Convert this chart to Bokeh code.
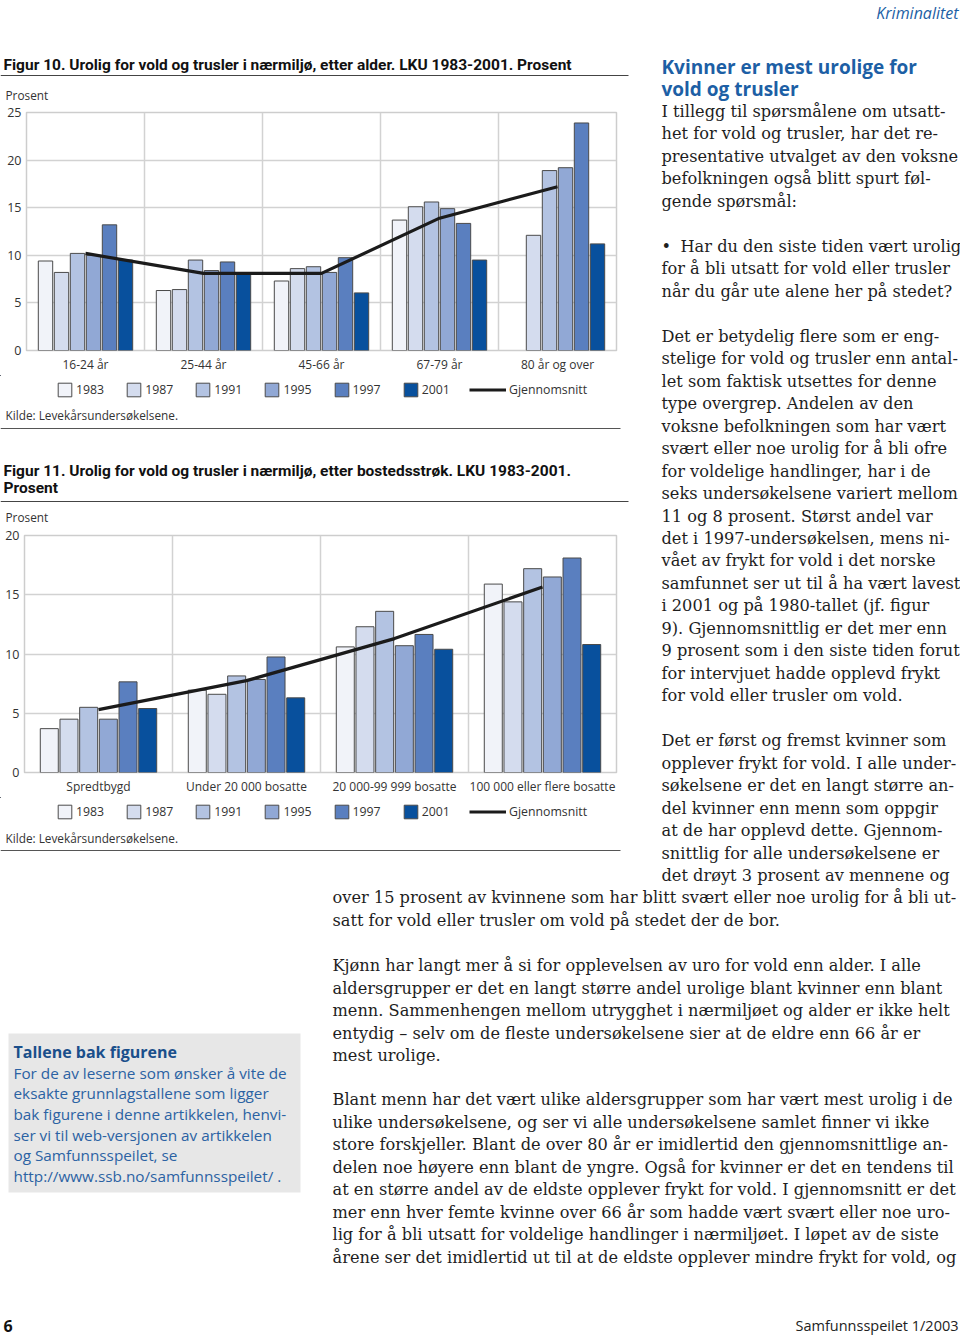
from bokeh.plotting import figure
from bokeh.models import Range1d, FixedTicker, Legend, LegendItem, ColumnDataSource
from bokeh.layouts import column, row
from bokeh.core.properties import value
from bokeh.embed import file_html
from bokeh.resources import INLINE

# ---------------- data ----------------
years = ["1983", "1987", "1991", "1995", "1997", "2001"]
colors = ["#f1f3f9", "#d4dcee", "#b3c3e2", "#91a8d5", "#5a7fbf", "#08509d"]

groups10 = ["16-24 år", "25-44 år", "45-66 år", "67-79 år", "80 år og over"]
v10_1983 = [9.4, 6.3, 7.3, 13.7, None]
v10_1987 = [8.2, 6.4, 8.6, 15.1, 12.1]
v10_1991 = [10.2, 9.5, 8.8, 15.6, 18.9]
v10_1995 = [10.0, 8.4, 8.2, 14.9, 19.2]
v10_1997 = [13.2, 9.3, 9.75, 13.35, 23.9]
v10_2001 = [9.5, 8.0, 6.05, 9.5, 11.2]
avg10 = [10.2, 8.1, 8.1, 13.9, 17.2]

groups11 = ["Spredtbygd", "Under 20 000 bosatte", "20 000-99 999 bosatte", "100 000 eller flere bosatte"]
v11_1983 = [3.7, 6.95, 10.6, 15.9]
v11_1987 = [4.5, 6.6, 12.3, 14.4]
v11_1991 = [5.5, 8.15, 13.6, 17.2]
v11_1995 = [4.5, 7.85, 10.7, 16.5]
v11_1997 = [7.65, 9.75, 11.65, 18.1]
v11_2001 = [5.4, 6.3, 10.4, 10.8]
avg11 = [5.3, 7.75, 11.3, 15.65]

yticks10 = [0, 5, 10, 15, 20, 25]
yticks11 = [0, 5, 10, 15, 20]

SANS = "Open Sans"
SERIF = "DejaVu Serif"
BLUE = "#1d5fa5"
BAR_LINE = "#4a4a4a"
AVG_LINE = "#1b1b1b"


def chart(groups, series, avg, yticks, width, height, borders, bar_w, step, cat_size):
    n = len(groups)
    p = figure(width=width, height=height, x_range=Range1d(0, n), y_range=Range1d(0, yticks[-1]),
               output_backend="svg", toolbar_location=None,
               min_border_left=borders[0], min_border_right=borders[1],
               min_border_top=borders[2], min_border_bottom=borders[3])
    p.frame_align = False
    p.background_fill_color = "white"
    p.border_fill_color = "white"
    p.outline_line_color = "#cdcdcd"
    p.outline_line_width = 1.5
    k = len(series)
    for j, vals in enumerate(series):
        xs, tops = [], []
        for i, v in enumerate(vals):
            if v is not None:
                xs.append(i + 0.5 + (j - (k - 1) / 2) * step)
                tops.append(v)
        src = ColumnDataSource(dict(x=xs, top=tops))
        p.vbar(x="x", top="top", width=bar_w, bottom=0, source=src,
               fill_color=colors[j], line_color=BAR_LINE, line_width=1)
    lsrc = ColumnDataSource(dict(x=[i + 0.5 for i in range(n)], y=avg))
    p.line(x="x", y="y", source=lsrc, line_color=AVG_LINE, line_width=3.2)

    p.yaxis.ticker = FixedTicker(ticks=yticks)
    p.xaxis.ticker = FixedTicker(ticks=[i + 0.5 for i in range(n)])
    p.xaxis.major_label_overrides = {i + 0.5: g for i, g in enumerate(groups)}
    p.xgrid.ticker = FixedTicker(ticks=list(range(1, n)))
    for ax in (p.xaxis, p.yaxis):
        ax.axis_line_color = None
        ax.major_tick_line_color = None
        ax.minor_tick_line_color = None
        ax.major_tick_out = 0
        ax.major_tick_in = 0
        ax.major_label_text_font = SANS
        ax.major_label_text_color = "#333333"
        ax.major_label_standoff = 5
    p.yaxis.major_label_text_font_size = "12.5px"
    p.xaxis.major_label_text_font_size = cat_size
    p.grid.grid_line_color = "#d2d2d2"
    p.grid.grid_line_width = 1.5
    return p


def textfig(x0, x1, y0, y1):
    p = figure(width=int(x1 - x0), height=int(y1 - y0), x_range=Range1d(x0, x1),
               y_range=Range1d(y1, y0), output_backend="svg", toolbar_location=None, min_border=0)
    p.frame_align = False
    p.axis.visible = False
    p.grid.visible = False
    p.outline_line_color = None
    p.background_fill_color = "white"
    p.border_fill_color = "white"
    return p


GLYPH = 17


def add_legend(p, center_from_bottom):
    """Legend key (1983 ... 2001 boxes + Gjennomsnitt line) drawn in a text panel.
    The key renderers sit far outside the visible range; only their legend swatches show."""
    off = -1.0e6
    yb = center_from_bottom - GLYPH / 2
    items = []
    for j, yr in enumerate(years):
        r = p.vbar(x=[off], top=[0], bottom=[1], width=1, fill_color=colors[j],
                   line_color=BAR_LINE, line_width=1)
        items.append(LegendItem(label=yr, renderers=[r]))
    common = dict(orientation="horizontal", padding=0, margin=0, border_line_color=None,
                  background_fill_alpha=0, label_text_font=SANS, label_text_font_size="12.3px",
                  label_text_color="#333333", label_standoff=3, label_height=GLYPH,
                  glyph_height=GLYPH)
    leg1 = Legend(items=items, location=(56, yb), glyph_width=GLYPH, spacing=21, **common)
    lr = p.line(x=[off, off + 1], y=[0, 0], line_color=AVG_LINE, line_width=3.2)
    leg2 = Legend(items=[LegendItem(label="Gjennomsnitt", renderers=[lr])],
                  location=(469, yb), glyph_width=37, **common)
    p.add_layout(leg1)
    p.add_layout(leg2)


def txt(p, x, ys, lines, size, font=SERIF, color="#1e1e1e", style="normal", align="left"):
    p.text(x=[x] * len(lines), y=ys, text=lines, text_font=value(font),
           text_font_size=value(size), text_color=color, text_font_style=style,
           text_baseline="middle", text_align=align)


def rule(p, x0, x1, y, color="#444444", w=1):
    p.segment(x0=[x0], y0=[y], x1=[x1], y1=[y], line_color=color, line_width=w)


TITLE_FS = "15.5px"
SMALL_FS = "11.8px"

# ---------------- left column ----------------
head10 = textfig(0, 640, 0, 103)
txt(head10, 3, [64], ["Figur 10. Urolig for vold og trusler i nærmiljø, etter alder. LKU 1983-2001. Prosent"],
    TITLE_FS, font="Roboto", style="bold", color="#111111")
rule(head10, 0, 628, 75)
txt(head10, 5, [94], ["Prosent"], SMALL_FS, font=SANS, color="#333333")

series10 = [v10_1983, v10_1987, v10_1991, v10_1995, v10_1997, v10_2001]
chart10 = chart(groups10, series10, avg10, yticks10, 640, 272, (26, 24, 9, 21), 0.122, 0.1356, "12px")

mid = textfig(0, 640, 375, 525)
add_legend(mid, 525 - 389)
txt(mid, 5, [414], ["Kilde: Levekårsundersøkelsene."], SMALL_FS, font=SANS, color="#333333")
rule(mid, 0, 620, 428, color="#555555")
txt(mid, 3, [470, 487], ["Figur 11. Urolig for vold og trusler i nærmiljø, etter bostedsstrøk. LKU 1983-2001.",
                         "Prosent"], TITLE_FS, font="Roboto", style="bold", color="#111111")
rule(mid, 0, 628, 501)
txt(mid, 5, [516], ["Prosent"], SMALL_FS, font=SANS, color="#333333")

series11 = [v11_1983, v11_1987, v11_1991, v11_1995, v11_1997, v11_2001]
chart11 = chart(groups11, series11, avg11, yticks11, 640, 272, (24, 24, 10, 21), 0.1216, 0.133, "12px")

src11 = textfig(0, 640, 797, 885)
add_legend(src11, 885 - 811)
txt(src11, 5, [837], ["Kilde: Levekårsundersøkelsene."], SMALL_FS, font=SANS, color="#333333")
rule(src11, 0, 620, 850, color="#555555")

left = column(head10, chart10, mid, chart11, src11, spacing=0)

# ---------------- right column ----------------
rf = textfig(640, 960, 0, 885)
txt(rf, 958, [12], ["Kriminalitet"], "16px", font=SANS, color=BLUE, style="italic", align="right")
txt(rf, 661, [66, 88], ["Kvinner er mest urolige for", "vold og trusler"], "19px", font=SANS,
    color=BLUE, style="bold")
BS = "16.2px"
txt(rf, 661, [111, 133, 156, 178, 201], [
    "I tillegg til spørsmålene om utsatt-",
    "het for vold og trusler, har det re-",
    "presentative utvalget av den voksne",
    "befolkningen også blitt spurt føl-",
    "gende spørsmål:"], BS)
txt(rf, 661, [246], ["•"], BS)
txt(rf, 680, [246], ["Har du den siste tiden vært urolig"], BS)
txt(rf, 661, [268, 291], ["for å bli utsatt for vold eller trusler",
                         "når du går ute alene her på stedet?"], BS)
para1 = [
    "Det er betydelig flere som er eng-",
    "stelige for vold og trusler enn antal-",
    "let som faktisk utsettes for denne",
    "type overgrep. Andelen av den",
    "voksne befolkningen som har vært",
    "svært eller noe urolig for å bli ofre",
    "for voldelige handlinger, har i de",
    "seks undersøkelsene variert mellom",
    "11 og 8 prosent. Størst andel var",
    "det i 1997-undersøkelsen, mens ni-",
    "vået av frykt for vold i det norske",
    "samfunnet ser ut til å ha vært lavest",
    "i 2001 og på 1980-tallet (jf. figur",
    "9). Gjennomsnittlig er det mer enn",
    "9 prosent som i den siste tiden forut",
    "for intervjuet hadde opplevd frykt",
    "for vold eller trusler om vold."]
txt(rf, 661, [336 + 22.44 * i for i in range(len(para1))], para1, BS)
para2 = [
    "Det er først og fremst kvinner som",
    "opplever frykt for vold. I alle under-",
    "søkelsene er det en langt større an-",
    "del kvinner enn menn som oppgir",
    "at de har opplevd dette. Gjennom-",
    "snittlig for alle undersøkelsene er",
    "det drøyt 3 prosent av mennene og"]
txt(rf, 661, [740 + 22.5 * i for i in range(len(para2))], para2, BS)

top = row(left, rf, spacing=0)

# ---------------- bottom ----------------
bf = textfig(0, 960, 885, 1337)
txt(bf, 332, [897, 920], [
    "over 15 prosent av kvinnene som har blitt svært eller noe urolig for å bli ut-",
    "satt for vold eller trusler om vold på stedet der de bor."], BS)
para3 = [
    "Kjønn har langt mer å si for opplevelsen av uro for vold enn alder. I alle",
    "aldersgrupper er det en langt større andel urolige blant kvinner enn blant",
    "menn. Sammenhengen mellom utrygghet i nærmiljøet og alder er ikke helt",
    "entydig – selv om de fleste undersøkelsene sier at de eldre enn 66 år er",
    "mest urolige."]
txt(bf, 332, [965 + 22.5 * i for i in range(len(para3))], para3, BS)
para4 = [
    "Blant menn har det vært ulike aldersgrupper som har vært mest urolig i de",
    "ulike undersøkelsene, og ser vi alle undersøkelsene samlet finner vi ikke",
    "store forskjeller. Blant de over 80 år er imidlertid den gjennomsnittlige an-",
    "delen noe høyere enn blant de yngre. Også for kvinner er det en tendens til",
    "at en større andel av de eldste opplever frykt for vold. I gjennomsnitt er det",
    "mer enn hver femte kvinne over 66 år som hadde vært svært eller noe uro-",
    "lig for å bli utsatt for voldelige handlinger i nærmiljøet. I løpet av de siste",
    "årene ser det imidlertid ut til at de eldste opplever mindre frykt for vold, og"]
txt(bf, 332, [1099 + 22.5 * i for i in range(len(para4))], para4, BS)

bf.quad(left=[8], right=[300], top=[1033], bottom=[1192], fill_color="#e7e7e7", line_color=None)
txt(bf, 13, [1051], ["Tallene bak figurene"], "16px", font=SANS, color="#1a4f8b", style="bold")
box_lines = [
    "For de av leserne som ønsker å vite de",
    "eksakte grunnlagstallene som ligger",
    "bak figurene i denne artikkelen, henvi-",
    "ser vi til web-versjonen av artikkelen",
    "og Samfunnsspeilet, se",
    "http://www.ssb.no/samfunnsspeilet/ ."]
txt(bf, 13, [1072 + 20.7 * i for i in range(len(box_lines))], box_lines, "15.3px", font=SANS, color="#2b62a3")

txt(bf, 3, [1325], ["6"], "16px", font=SANS, color="#111111", style="bold")
txt(bf, 958, [1325], ["Samfunnsspeilet 1/2003"], "14.5px", font=SANS, color="#222222", align="right")

page = column(top, bf, spacing=0)

open("out.html", "w").write(file_html(page, INLINE))
